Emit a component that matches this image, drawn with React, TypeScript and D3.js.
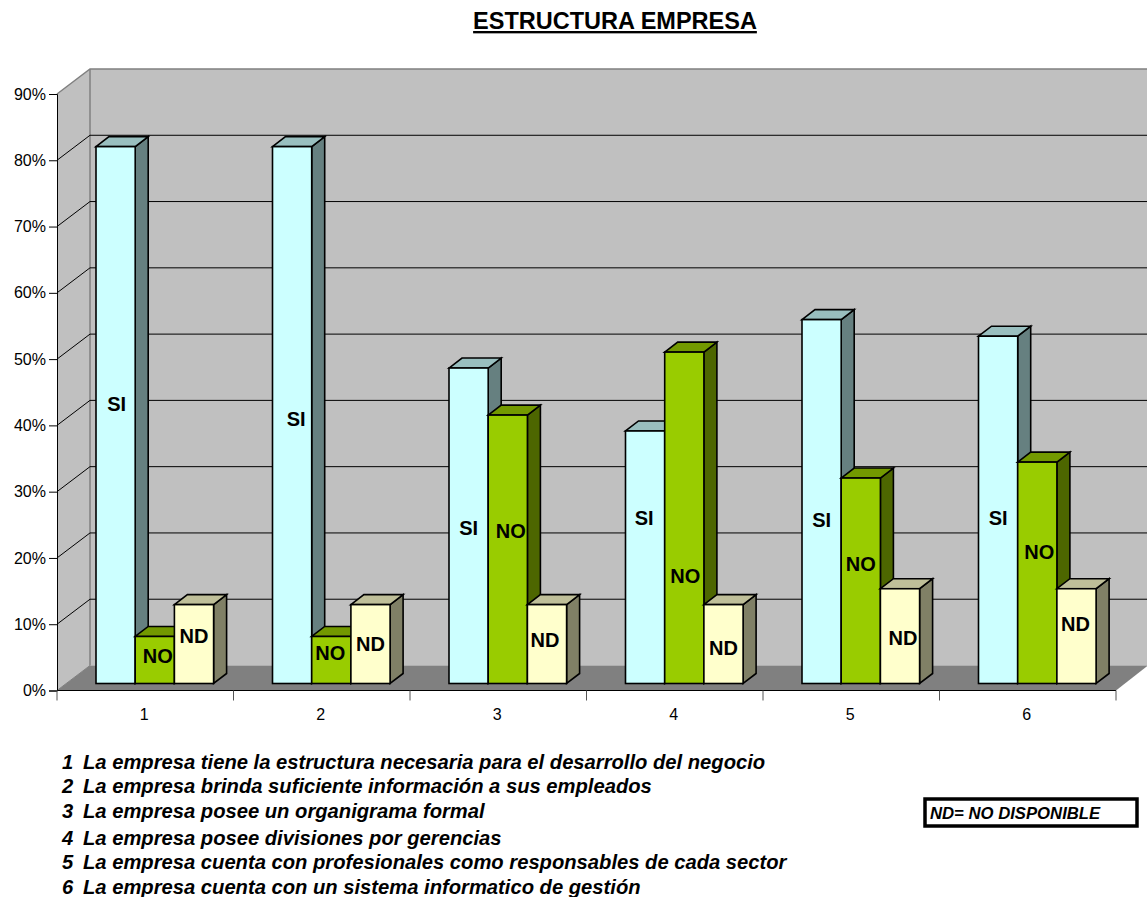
import React, { useEffect, useRef } from "react";
import * as d3 from "d3";

const categories = ["1", "2", "3", "4", "5", "6"];
const seriesNames = ["SI", "NO", "ND"];
const siValues = [81, 81, 47.6, 38.1, 54.9, 52.4];
const noValues = [7.1, 7.1, 40.5, 50, 31, 33.4];
const ndValues = [11.9, 11.9, 11.9, 11.9, 14.3, 14.3];
const yTicks = [0, 10, 20, 30, 40, 50, 60, 70, 80, 90];

const notes = [
  "La empresa tiene la estructura necesaria para el desarrollo del negocio",
  "La empresa brinda suficiente información a sus empleados",
  "La empresa posee un organigrama formal",
  "La empresa posee divisiones por gerencias",
  "La empresa cuenta con profesionales como responsables de cada sector",
  "La empresa cuenta con un sistema informatico de gestión",
];
const noteBaselines = [769, 793, 818, 845, 869, 894];

// labels were placed by hand in the original, so they sit at their own heights (in %)
const siLabelAt = [42.8, 40.5, 24, 25.6, 25.3, 25.5];
const noLabelAt = [4.7, 5.2, 23.6, 16.8, 18.7, 20.5];
const ndLabelAt = [7.7, 6.5, 7.2, 6, 7.4, 9.6];
const siLabelShift = [1, 4, 0, -1, 0, 0];
const noLabelShift = [3, -1, 3, 1, 0, 2];
const ndLabelShift = [0, 0, -2, 0, 3, -1];

const colors: Record<string, { front: string; side: string; top: string }> = {
  SI: { front: "#CCFFFF", side: "#668080", top: "#99BFBF" },
  NO: { front: "#99CC00", side: "#4D6600", top: "#739900" },
  ND: { front: "#FFFFCC", side: "#808066", top: "#BFBF99" },
};

const font = "'Liberation Sans', Arial, sans-serif";

const App: React.FC = () => {
  const svgRef = useRef<SVGSVGElement>(null);

  useEffect(() => {
    if (!svgRef.current) return;
    const svg = d3.select(svgRef.current);
    svg.selectAll("*").remove();

    const width = 1147;
    const left = 57;
    const right = 1116;
    const wallDx = 33;
    const wallDy = 25;
    const barDx = 13;
    const barDy = 10;
    const barLift = 7;

    const y = d3.scaleLinear().domain([0, 90]).range([690.5, 94]);
    const x = d3.scaleBand<string>().domain(categories).range([left, right]);
    const inner = d3
      .scaleBand<string>()
      .domain(seriesNames)
      .range([39, 39 + 117.6]);

    const poly = (pts: number[][]) => pts.map((p) => p.join(",")).join(" ");
    const top = y(90);
    const base = y(0);

    // back wall, side wall, floor
    svg
      .append("polygon")
      .attr(
        "points",
        poly([
          [left + wallDx, top - wallDy],
          [width, top - wallDy],
          [width, base - wallDy],
          [left + wallDx, base - wallDy],
        ]),
      )
      .attr("fill", "#C0C0C0");
    svg
      .append("polygon")
      .attr(
        "points",
        poly([
          [left, top],
          [left + wallDx, top - wallDy],
          [left + wallDx, base - wallDy],
          [left, base],
        ]),
      )
      .attr("fill", "#C0C0C0");
    svg
      .append("polygon")
      .attr(
        "points",
        poly([
          [left, base],
          [left + wallDx, base - wallDy],
          [width + 1, base - wallDy],
          [right, base],
        ]),
      )
      .attr("fill", "#808080");

    svg
      .append("polyline")
      .attr(
        "points",
        poly([
          [left, top],
          [left + wallDx, top - wallDy],
          [width, top - wallDy],
        ]),
      )
      .attr("fill", "none")
      .attr("stroke", "#808080")
      .attr("stroke-width", 1.5);
    svg
      .append("line")
      .attr("x1", left + wallDx)
      .attr("x2", left + wallDx)
      .attr("y1", top - wallDy)
      .attr("y2", base - wallDy)
      .attr("stroke", "#808080")
      .attr("stroke-width", 1.5);
    svg
      .append("line")
      .attr("x1", left)
      .attr("x2", left + wallDx)
      .attr("y1", base)
      .attr("y2", base - wallDy)
      .attr("stroke", "#808080");

    // gridlines
    svg
      .append("g")
      .selectAll("polyline")
      .data(yTicks.filter((t) => t > 0 && t < 90))
      .enter()
      .append("polyline")
      .attr("points", (t) =>
        poly([
          [left, y(t)],
          [left + wallDx, y(t) - wallDy],
          [width, y(t) - wallDy],
        ]),
      )
      .attr("fill", "none")
      .attr("stroke", "#000")
      .attr("stroke-width", 1);

    // y axis
    const yAxis = svg
      .append("g")
      .attr("transform", `translate(${left},0)`)
      .call(
        d3
          .axisLeft(y)
          .tickValues(yTicks)
          .tickSize(8)
          .tickPadding(3)
          .tickFormat((d) => `${d}%`),
      );
    yAxis.selectAll("path").attr("stroke", "#000").attr("stroke-width", 1);
    yAxis.selectAll("line").attr("stroke", "#000");
    yAxis
      .selectAll("text")
      .attr("font-family", font)
      .attr("font-size", 16)
      .attr("fill", "#000");

    // x axis
    svg
      .append("line")
      .attr("x1", left)
      .attr("x2", right)
      .attr("y1", base)
      .attr("y2", base)
      .attr("stroke", "#000")
      .attr("stroke-width", 1.2);
    svg
      .append("g")
      .selectAll("line")
      .data([...categories.map((c) => x(c)!), right])
      .enter()
      .append("line")
      .attr("x1", (d) => d)
      .attr("x2", (d) => d)
      .attr("y1", base)
      .attr("y2", base + 10)
      .attr("stroke", "#555");
    svg
      .append("g")
      .selectAll("text")
      .data(categories)
      .enter()
      .append("text")
      .attr("x", (c) => x(c)! + x.bandwidth() / 2 - 1)
      .attr("y", 720)
      .attr("text-anchor", "middle")
      .attr("font-family", font)
      .attr("font-size", 16)
      .text((c) => c);

    // bars
    const valuesBySeries: Record<string, number[]> = {
      SI: siValues,
      NO: noValues,
      ND: ndValues,
    };
    const labelAt: Record<string, number[]> = {
      SI: siLabelAt,
      NO: noLabelAt,
      ND: ndLabelAt,
    };
    const labelShift: Record<string, number[]> = {
      SI: siLabelShift,
      NO: noLabelShift,
      ND: ndLabelShift,
    };

    const bars = svg.append("g");
    const barLabels = svg.append("g");
    categories.forEach((c, i) => {
      seriesNames.forEach((s) => {
        const v = valuesBySeries[s][i];
        const x0 = x(c)! + inner(s)!;
        const x1 = x0 + inner.bandwidth();
        const yTop = y(v) - barLift;
        const yBase = base - barLift;
        const g = bars.append("g").attr("stroke", "#000").attr("stroke-width", 1.6);
        g.append("polygon")
          .attr(
            "points",
            poly([
              [x1, yTop],
              [x1 + barDx, yTop - barDy],
              [x1 + barDx, yBase - barDy],
              [x1, yBase],
            ]),
          )
          .attr("fill", colors[s].side);
        g.append("polygon")
          .attr(
            "points",
            poly([
              [x0, yTop],
              [x0 + barDx, yTop - barDy],
              [x1 + barDx, yTop - barDy],
              [x1, yTop],
            ]),
          )
          .attr("fill", colors[s].top);
        g.append("rect")
          .attr("x", x0)
          .attr("y", yTop)
          .attr("width", x1 - x0)
          .attr("height", yBase - yTop)
          .attr("fill", colors[s].front);

        barLabels
          .append("text")
          .attr("x", (x0 + x1) / 2 + labelShift[s][i])
          .attr("y", y(labelAt[s][i]))
          .attr("dy", "0.2em")
          .attr("text-anchor", "middle")
          .attr("font-family", font)
          .attr("font-weight", "bold")
          .attr("font-size", 20)
          .text(s);
      });
    });

    // title
    svg
      .append("text")
      .attr("x", 615)
      .attr("y", 29)
      .attr("text-anchor", "middle")
      .attr("font-family", font)
      .attr("font-weight", "bold")
      .attr("font-size", 23.5)
      .attr("text-decoration", "underline")
      .text("ESTRUCTURA EMPRESA");

    // notes below the chart
    const noteRows = svg
      .append("g")
      .attr("font-family", font)
      .attr("font-weight", "bold")
      .attr("font-style", "italic")
      .attr("font-size", 20.2)
      .selectAll("g")
      .data(notes)
      .enter()
      .append("g");
    noteRows
      .append("text")
      .attr("x", 62)
      .attr("y", (_, i) => noteBaselines[i])
      .text((_, i) => categories[i]);
    noteRows
      .append("text")
      .attr("x", 83)
      .attr("y", (_, i) => noteBaselines[i])
      .text((d) => d);

    // ND key
    svg
      .append("rect")
      .attr("x", 925)
      .attr("y", 799)
      .attr("width", 212)
      .attr("height", 27)
      .attr("fill", "#fff")
      .attr("stroke", "#000")
      .attr("stroke-width", 3.5);
    svg
      .append("text")
      .attr("x", 930)
      .attr("y", 819)
      .attr("font-family", font)
      .attr("font-weight", "bold")
      .attr("font-style", "italic")
      .attr("font-size", 16.7)
      .text("ND= NO DISPONIBLE");
  }, []);

  return (
    <svg
      ref={svgRef}
      width={1147}
      height={897}
      style={{ position: "absolute", left: 0, top: 0, display: "block", background: "#fff" }}
    />
  );
};

export default App;
